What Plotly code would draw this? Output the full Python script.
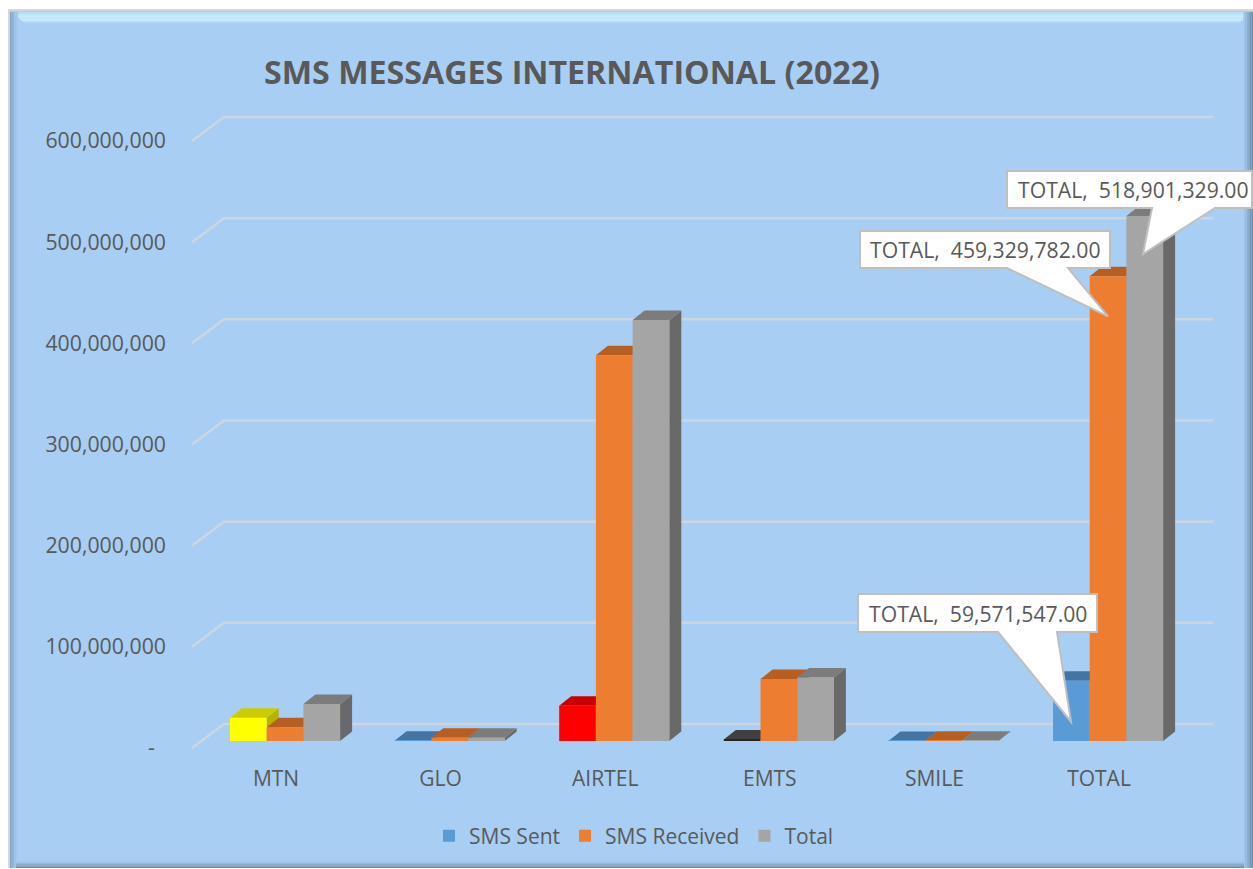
import plotly.graph_objects as go

# ---------- data ----------
categories = ["MTN", "GLO", "AIRTEL", "EMTS", "SMILE", "TOTAL"]
sms_sent = [22.9e6, 0.2e6, 34.9e6, 1.5e6, 0.071547e6, 59571547]
sms_received = [13.7e6, 3.1e6, 381.2e6, 61.2e6, 0.129782e6, 459329782]
sms_total = [36.6e6, 3.3e6, 416.1e6, 62.7e6, 0.2e6, 518901329]
y_ticks = [0, 100e6, 200e6, 300e6, 400e6, 500e6, 600e6]
y_tick_labels = ["-\u00a0\u00a0", "100,000,000", "200,000,000", "300,000,000",
                 "400,000,000", "500,000,000", "600,000,000"]
series_names = ["SMS Sent", "SMS Received", "Total"]
title_text = "SMS MESSAGES INTERNATIONAL (2022)"

# ---------- style ----------
TEXT = "#595959"
FONT = "Open Sans"
BG = "#A8CEF3"
GRID = "#CBD6E2"
FRONT = ["#5B9BD5", "#ED7D31", "#A5A5A5"]
TOP = ["#4475A2", "#B75F22", "#7C7C7C"]
SIDE = ["#3F6C96", "#A9561E", "#696969"]
POINT_OVERRIDES = {  # (series 0) category index -> front, top, side
    0: ("#FFFF00", "#CCCC00", "#B5B500"),
    2: ("#FF0000", "#C80000", "#B00000"),
    3: ("#262626", "#404040", "#333333"),
}

W, H = 1253, 869
PL, PR, PT, PB = 184, 1213, 100, 760     # plot area, px
CAT_PX, CAT0_PX = 164.6, 276             # px per category, first category px
ZERO_PX, PX_PER_UNIT = 748, 607 / 600e6  # front-plane zero, px per value unit
GRID_DX, GRID_DY = 32 / CAT_PX, 24 / PX_PER_UNIT
BAR_W = 36.7 / CAT_PX
BAR_START = -46 / CAT_PX
BAR_BASE = 7 / PX_PER_UNIT
DEPTH_X, DEPTH_Y = 12 / CAT_PX, 9.5 / PX_PER_UNIT

xrange_ = [(PL - CAT0_PX) / CAT_PX, (PR - CAT0_PX) / CAT_PX]
yrange_ = [(ZERO_PX - PB) / PX_PER_UNIT, (ZERO_PX - PT) / PX_PER_UNIT]


def X(px):
    return (px - PL) / (PR - PL)


def Y(py):
    return (PB - py) / (PB - PT)


def poly_paper(points):
    return "M" + " L".join(f"{X(a):.5f},{Y(b):.5f}" for a, b in points) + " Z"


def poly_data(points, close=True):
    return "M" + " L".join(f"{a:.5f},{b:.1f}" for a, b in points) + (" Z" if close else "")


shapes = []


def paper_poly(points, fill, line=None, layer="below", lw=2):
    shapes.append(dict(type="path", xref="paper", yref="paper", path=poly_paper(points),
                       fillcolor=fill, layer=layer,
                       line=dict(color=line, width=lw) if line else dict(width=0)))


# ---------- frame ----------
L0, T0, R0, B0 = 8, 9, 1253, 868
paper_poly([(L0, T0), (R0, T0), (R0, B0), (L0, B0)], "#D4D7DB")
paper_poly([(L0 + 2, T0 + 2), (R0, T0 + 2), (R0, B0), (L0 + 2, B0)], BG)
for i, c in enumerate(["#B8DCF3", "#BFE4F7", "#C4E9F9", "#C8ECFB", "#CAEDFB", "#C9ECFB", "#C6E9FA", "#BCE0F8", "#ADD3F5"]):
    y0 = T0 + 3 + i * 1.3
    paper_poly([(L0 + 3 + i * 1.6, y0), (R0 - 3 - i * 1.2, y0), (R0 - 3 - (i + 1) * 1.2, y0 + 1.4), (L0 + 3 + (i + 1) * 1.6, y0 + 1.4)], c)
for i, c in enumerate(["#7FA3C2", "#86ADCF", "#90B7D9", "#9ABFE2", "#A2C7EB", "#A6CCF0"]):
    paper_poly([(L0 + 2 + i * 1.4, T0 + 3), (L0 + 2 + (i + 1) * 1.4, T0 + 3), (L0 + 2 + (i + 1) * 1.4, B0), (L0 + 2 + i * 1.4, B0)], c)
for i, c in enumerate(["#6C8EAC", "#7498B7", "#7FA3C3", "#8BAFD0", "#97BBDD", "#A2C7EA"]):
    paper_poly([(R0 - (i + 1) * 1.6, T0 + 3), (R0 - i * 1.6, T0 + 3), (R0 - i * 1.6, B0), (R0 - (i + 1) * 1.6, B0)], c)
for i, c in enumerate(["#6D8BA6", "#7998B5", "#87A8C6", "#95B8D7", "#A0C4E6", "#A6CCF0"]):
    paper_poly([(L0 + 8, B0 - (i + 1) * 1.3), (R0 - 9, B0 - (i + 1) * 1.3), (R0 - 9, B0 - i * 1.3), (L0 + 8, B0 - i * 1.3)], c)

# ---------- back wall gridlines ----------
for t in y_ticks:
    shapes.append(dict(type="path", layer="below", xref="x", yref="y",
                       path=poly_data([(xrange_[0] + 8 / CAT_PX, t),
                                       (xrange_[0] + 8 / CAT_PX + GRID_DX, t + GRID_DY),
                                       (xrange_[1], t + GRID_DY)], close=False),
                       line=dict(color=GRID, width=2.5)))

# ---------- 3-D faces, painted left to right under the bar fronts ----------
all_series = [sms_sent, sms_received, sms_total]
for c, _ in enumerate(categories):
    for s, vals in enumerate(all_series):
        x0 = c + BAR_START + s * BAR_W
        x1 = x0 + BAR_W
        top = BAR_BASE + vals[c]
        tcol, scol = TOP[s], SIDE[s]
        if s == 0 and c in POINT_OVERRIDES:
            _, tcol, scol = POINT_OVERRIDES[c]
        shapes.append(dict(type="path", layer="below", xref="x", yref="y", fillcolor=scol, line=dict(width=0),
                           path=poly_data([(x1, BAR_BASE), (x1 + DEPTH_X, BAR_BASE + DEPTH_Y),
                                           (x1 + DEPTH_X, top + DEPTH_Y), (x1, top)])))
        shapes.append(dict(type="path", layer="below", xref="x", yref="y", fillcolor=tcol, line=dict(width=0),
                           path=poly_data([(x0, top), (x1, top), (x1 + DEPTH_X, top + DEPTH_Y),
                                           (x0 + DEPTH_X, top + DEPTH_Y)])))

# ---------- bars (fronts) ----------
fig = go.Figure()
for s, (name, vals) in enumerate(zip(series_names, all_series)):
    idx = [i for i in range(len(categories)) if not (s == 0 and i in POINT_OVERRIDES)]
    fig.add_trace(go.Bar(x=idx, y=[vals[i] for i in idx], base=BAR_BASE, name=name,
                         width=BAR_W, offset=BAR_START + s * BAR_W,
                         marker=dict(color=FRONT[s], line=dict(width=0))))
    if s == 0:
        for i, (fc, _, _) in POINT_OVERRIDES.items():
            fig.add_trace(go.Bar(x=[i], y=[vals[i]], base=BAR_BASE, name=name, showlegend=False,
                                 width=BAR_W, offset=BAR_START,
                                 marker=dict(color=fc, line=dict(width=0))))

# ---------- callouts ----------
callouts = [
    # box (l, t, r, b), tail base (x0, x1), tip px x, tip offset below bar top, value, text centre px
    ((860, 231, 1110, 268), (1007, 1068), 1108, 40, sms_received[5], 985),
    ((858, 594, 1097, 632), (998, 1057), 1071, 41, sms_sent[5], 978),
    ((1007, 171, 1252, 208), (1152, 1215), 1143, 38, sms_total[5], 1133.5),
]
annotations = []
for (l, t, r, b), (a0, a1), tipx, off, v, cx in callouts:
    tipy = ZERO_PX - 7 - v * PX_PER_UNIT + off
    paper_poly([(l, t), (r, t), (r, b), (a1, b), (tipx, tipy), (a0, b), (l, b)],
               "#FFFFFF", line="#BFBFBF", layer="above")
    annotations.append(dict(xref="paper", yref="paper", x=X(cx), y=Y((t + b) / 2),
                            text=f"TOTAL,  {v:,.2f}", showarrow=False, xanchor="center", yanchor="middle",
                            font=dict(family=FONT, size=21.2, color=TEXT)))

fig.update_layout(
    width=W, height=H, autosize=False,
    margin=dict(l=PL, r=W - PR, t=PT, b=H - PB, pad=0),
    paper_bgcolor="#FFFFFF", plot_bgcolor="rgba(0,0,0,0)",
    barmode="overlay", shapes=shapes, annotations=annotations,
    title=dict(text=title_text, xref="container", yref="container", x=264 / W, xanchor="left",
               y=(H - 73) / H, yanchor="middle", font=dict(family=FONT, size=32.2, color=TEXT, weight="bold")),
    xaxis=dict(range=xrange_, tickmode="array", tickvals=list(range(len(categories))), ticktext=categories,
               showgrid=False, zeroline=False, showline=False, ticks="", ticklabelstandoff=4,
               tickfont=dict(family=FONT, size=21, color=TEXT)),
    yaxis=dict(range=yrange_, tickmode="array", tickvals=y_ticks, ticktext=y_tick_labels,
               showgrid=False, zeroline=False, showline=False, ticks="", ticklabelstandoff=17,
               tickfont=dict(family=FONT, size=21.3, color=TEXT)),
    legend=dict(orientation="h", x=X(634), xanchor="center", y=Y(836), yanchor="middle",
                bgcolor="rgba(0,0,0,0)", font=dict(family=FONT, size=21, color=TEXT), traceorder="normal"),
    showlegend=True,
)

fig.write_html("out.html", config={"displayModeBar": False},
               post_script="document.body.style.margin='0';document.body.style.overflow='hidden';")
